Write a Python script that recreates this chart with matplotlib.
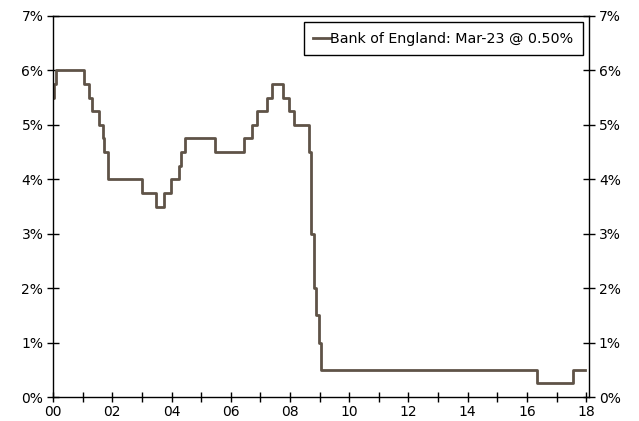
import matplotlib.pyplot as plt
from matplotlib.ticker import MultipleLocator, FuncFormatter

# Bank Rate step changes: position in years since Jan 2000, new rate (%)
change_years = [0.00, 0.03, 0.09, 1.06, 1.23, 1.31, 1.56, 1.68, 1.73, 1.84,
                3.02, 3.46, 3.76, 3.98, 4.26, 4.32, 4.46, 5.47, 6.45, 6.73,
                6.90, 7.24, 7.40, 7.78, 7.95, 8.12, 8.64, 8.70, 8.80, 8.89,
                8.98, 9.04, 16.34, 17.54, 17.95]
rates = [5.50, 5.75, 6.00, 5.75, 5.50, 5.25, 5.00, 4.75, 4.50, 4.00,
         3.75, 3.50, 3.75, 4.00, 4.25, 4.50, 4.75, 4.50, 4.75, 5.00,
         5.25, 5.50, 5.75, 5.50, 5.25, 5.00, 4.50, 3.00, 2.00, 1.50,
         1.00, 0.50, 0.25, 0.50, 0.50]

x_ticks = [0, 2, 4, 6, 8, 10, 12, 14, 16, 18]
x_labels = ["00", "02", "04", "06", "08", "10", "12", "14", "16", "18"]

plt.rcParams["font.family"] = "DejaVu Sans"
plt.rcParams["font.size"] = 10

fig = plt.figure(figsize=(6.39, 4.21), dpi=100)
ax = fig.add_axes([0.083, 0.057, 0.839, 0.905])

ax.plot(change_years, rates, drawstyle="steps-post", color="#5f5347", lw=2,
        label="Bank of England: Mar-23 @ 0.50%")

ax.set_xlim(0, 18.1)
ax.set_ylim(0, 7)
ax.set_xticks(x_ticks)
ax.set_xticklabels(x_labels)
ax.xaxis.set_minor_locator(MultipleLocator(1))
ax.yaxis.set_major_locator(MultipleLocator(1))
ax.yaxis.set_major_formatter(FuncFormatter(lambda v, p: f"{v:.0f}%"))

ax.tick_params(axis="x", which="both", direction="inout", length=7, width=1,
               top=False, pad=2, labelsize=10)
ax.tick_params(axis="y", which="both", direction="inout", length=8, width=1,
               left=True, right=True, labelleft=True, labelright=True, pad=3,
               labelsize=10)

for s in ax.spines.values():
    s.set_linewidth(1)
    s.set_color("black")

leg = ax.legend(loc="upper right", fancybox=False, edgecolor="black",
                framealpha=1, handlelength=1.15, handletextpad=0.05,
                borderpad=0.65, borderaxespad=0.45, fontsize=10.3)
leg.get_frame().set_linewidth(1)

fig.savefig("out.png", dpi=100)
